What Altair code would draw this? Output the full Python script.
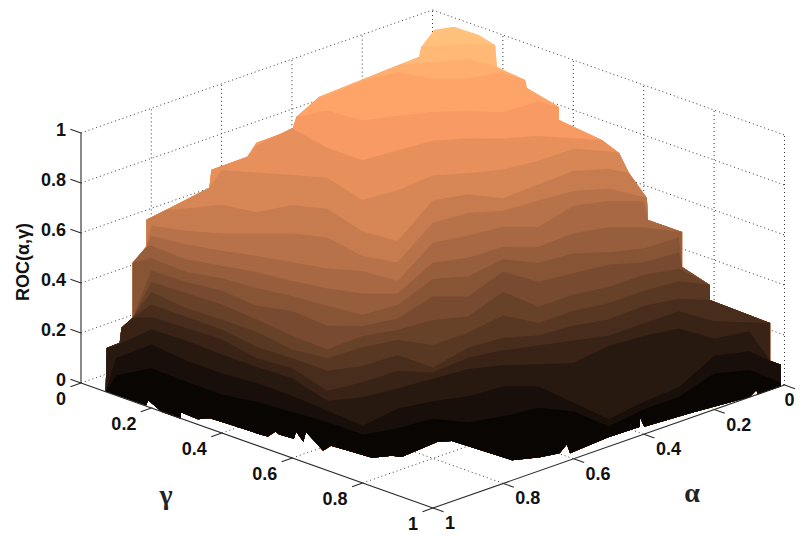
import altair as alt
import pandas as pd

N = None
# contour levels of ROC(alpha, gamma)
LEVELS = [0.95, 0.90, 0.85, 0.80, 0.75, 0.70, 0.65, 0.60, 0.55, 0.50,
          0.45, 0.40, 0.35, 0.30, 0.25, 0.20, 0.15, 0.10, 0.05]
# gamma + (1 - alpha) of each column of the contour table
SUMS = [0.1, 0.2, 0.3, 0.4, 0.5, 0.6, 0.7, 0.8, 0.9, 1.0, 1.1, 1.2, 1.3, 1.4, 1.5, 1.6, 1.7, 1.8, 1.9]
# gamma - (1 - alpha) where each contour crosses each column
CROSS = [
 [N,N,N,N,N,N,N,N,N,-.81,-.83,N,N,N,N,N,N,N,N],
 [N,N,N,N,N,N,N,N,N,-.78,-.81,N,N,N,N,N,N,N,N],
 [N,N,N,N,N,N,-.61,-.73,-.80,-.75,-.75,-.80,N,N,N,N,N,N,N],
 [N,N,N,N,N,N,-.59,-.51,-.55,-.58,-.59,-.58,-.67,N,N,N,N,N,N],
 [N,N,N,N,-.41,-.55,-.39,-.29,-.37,-.45,-.47,-.47,-.49,N,N,N,N,N,N],
 [N,N,N,-.31,-.29,-.27,-.25,-.07,-.15,-.27,-.29,-.32,-.39,-.49,-.47,N,N,N,N],
 [N,N,-.10,-.13,-.07,-.13,-.10,.08,.16,-.17,-.22,-.19,-.30,-.41,-.43,N,N,N,N],
 [N,-.06,-.02,0,0,0,.03,.18,.23,-.09,-.17,-.19,-.27,-.35,-.37,N,N,N,N],
 [N,-.08,-.01,.04,.08,.13,.18,.20,.28,-.03,-.09,-.16,-.16,-.33,-.37,-.37,N,N,N],
 [N,-.10,.01,.06,.11,.18,.24,.28,.28,.03,-.01,-.10,-.10,-.21,-.26,-.26,N,N,N],
 [N,-.10,.01,.06,.14,.20,.28,.35,.27,.06,.04,-.10,-.07,-.15,-.16,-.19,-.28,N,N],
 [N,-.10,-.01,.06,.18,.22,.34,.34,.28,.10,.10,-.10,-.02,-.09,-.16,-.18,-.26,N,N],
 [N,-.11,-.02,.07,.19,.32,.43,.32,.27,.19,.16,-.04,.08,-.02,-.08,-.18,-.23,N,N],
 [N,-.13,0,.09,.19,.33,.40,.31,.25,.29,.19,.05,.11,.01,-.05,-.15,-.23,N,N],
 [N,-.13,-.03,.07,.21,.30,.40,.36,.27,.37,.21,.13,.11,.03,-.02,-.13,-.19,N,N],
 [N,-.13,-.04,.05,.20,.28,.46,.39,.30,.31,.19,.13,.09,.05,.01,-.09,-.19,-.11,N],
 [0,-.13,-.04,.07,.17,.26,.44,.41,.34,.26,.18,.15,.14,.13,-.01,-.09,-.15,-.07,-.13],
 [0,-.11,.02,.12,.20,.30,.42,.54,.40,.34,.30,.22,.22,.35,.48,.34,.22,-.03,-.07],
 [.04,-.02,.09,.19,.25,.33,.41,.51,.46,.38,.41,.36,.29,.32,.44,.30,.20,.01,-.02],
]
# far-left edge of the surface (gamma about 0.07)
LEFT_A = [0, .003, .04, .045, .077, .077, .116, .116, .173, .295, .301, .403, .429, .531, .543, .608, .835, .892, .898, .935, .991]
LEFT_Z = [0, .174, .176, .234, .258, .478, .523, .631, .643, .671, .74, .742, .785, .787, .833, .881, .897, .901, .938, .988, .972]
# far-right edge of the surface (alpha about 0.01)
RIGHT_G = [.142, .188, .193, .273, .278, .369, .369, .491, .54, .568, .619, .622, .719, .719, .798, .798, .969, .969, 1.0, 1.0]
RIGHT_Z = [.976, .959, .873, .861, .832, .801, .749, .73, .703, .637, .562, .476, .476, .336, .304, .244, .237, .086, .086, .014]
# front rim of the surface at ROC = 0
RIM_G = [.068,.181,.164,.229,.283,.259,.311,.324,.367,.46,.479,.47,.487,.525,.499,.55,.513,.614,.605,.641,.712,.732,.75,.74,.757,.919,.946,.958,.932,.973,.962,.964,.923,.97,.981,.999,.98,1.0,1.0]
RIM_A = [.003,.004,.027,0,0,.025,.021,.042,.045,.049,.052,.083,.076,.08,.112,.082,.126,.074,.105,.109,.115,.152,.161,.272,.297,.306,.358,.402,.449,.417,.535,.625,.665,.631,.755,.902,.94,.924,.99]

TICKS = [0.2, 0.4, 0.6, 0.8]
Z_TICKS = [0, 0.2, 0.4, 0.6, 0.8, 1]
GAMMA_TICKS = [0, 0.2, 0.4, 0.6, 0.8, 1]
ALPHA_TICKS = [0, 0.2, 0.4, 0.6, 0.8, 1]


def sx(g, a):
    return 81 + 352 * g + 351.5 * a


def sy(g, a, z=0.0):
    return 383 + 125 * g - 123 * a - 250 * z


def xy(g, a, z=0.0):
    return sx(g, a), sy(g, a, z)


LEFT = [xy(0.07, a, z) for a, z in zip(LEFT_A, LEFT_Z)]
RIGHT = [xy(g, 0.99, z) for g, z in zip(RIGHT_G, RIGHT_Z)]
RIM = [xy(g, a) for g, a in zip(RIM_G, RIM_A)]

polys = []


def add_poly(pid, band, pts):
    for i, (x, y) in enumerate(pts):
        polys.append({"pid": pid, "v": i, "px": x, "py": y, "band": band})


add_poly(0, 0.97, LEFT + RIGHT + RIM[::-1])
for k, (lev, row) in enumerate(zip(LEVELS, CROSS)):
    cont = []
    for s, d in zip(SUMS, row):
        if d is not None:
            cont.append(xy((s + d) / 2, (s - d) / 2, lev))
    x0, y0 = cont[0]
    x1, y1 = cont[-1]
    lft = [p for p in LEFT if p[0] < x0 and p[1] >= y0]
    rgt = [p for p in RIGHT if p[0] > x1 and p[1] >= y1]
    add_poly(k + 1, lev - 0.025, lft + cont + rgt + RIM[::-1])
poly_df = pd.DataFrame(polys)

# line segments
lines = []


def seg(group, sid, p, q):
    lines.append({"g": group, "sid": f"{group}{sid}", "v": 0, "px": p[0], "py": p[1]})
    lines.append({"g": group, "sid": f"{group}{sid}", "v": 1, "px": q[0], "py": q[1]})


n = 0
for t in TICKS:  # floor
    seg("grid", n, xy(t, 0), xy(t, 1)); n += 1
    seg("grid", n, xy(0, t), xy(1, t)); n += 1
for t in TICKS + [1]:  # walls, verticals
    seg("grid", n, xy(0, t), xy(0, t, 1)); n += 1
for t in TICKS + [1]:
    seg("grid", n, xy(t, 1), xy(t, 1, 1)); n += 1
for z in Z_TICKS:
    seg("grid", n, xy(0, 0, z), xy(0, 1, z)); n += 1
    seg("grid", n, xy(0, 1, z), xy(1, 1, z)); n += 1
grid_df = pd.DataFrame(lines)

lines = []
n = 0
seg("axis", n, xy(0, 0, 0), xy(0, 0, 1)); n += 1
seg("axis", n, xy(0, 0), xy(1, 0)); n += 1
seg("axis", n, xy(1, 0), xy(1, 1)); n += 1
for z in Z_TICKS:
    seg("axis", n, xy(0, 0, z), xy(-0.03, 0, z)); n += 1
for g in GAMMA_TICKS:
    seg("axis", n, xy(g, 0), xy(g, -0.03)); n += 1
for al in ALPHA_TICKS:
    seg("axis", n, xy(1, 1 - al), xy(1.03, 1 - al)); n += 1
axis_df = pd.DataFrame(lines)

X = alt.X("px:Q", axis=None, scale=alt.Scale(domain=[8, 796]))
Y = alt.Y("py:Q", axis=None, scale=alt.Scale(domain=[538, 8]))

grid = alt.Chart(grid_df).mark_line(color="#3a3a3a", strokeWidth=1, strokeDash=[1, 3]).encode(
    x=X, y=Y, detail="sid:N", order="v:Q")

surface = alt.Chart(poly_df).mark_line(filled=True, interpolate="linear", strokeWidth=0).encode(
    x=X, y=Y, detail="pid:Q", order="v:Q",
    color=alt.Color("band:Q", legend=None,
                    scale=alt.Scale(domain=[0, 0.8, 1], range=["#000000", "#ff9f66", "#ffc77f"],
                                    interpolate="rgb")))

axes = alt.Chart(axis_df).mark_line(color="#2a2a2a", strokeWidth=1.1).encode(
    x=X, y=Y, detail="sid:N", order="v:Q")


def label_df(points):
    return pd.DataFrame([{"px": p[0], "py": p[1], "t": f"{t:g}"} for p, t in points])


font = dict(font="Liberation Sans", fontWeight="bold", fontSize=18, color="#111111")
z_labels = alt.Chart(label_df([(xy(0, 0, z), z) for z in Z_TICKS])).mark_text(
    align="right", baseline="middle", dx=-15, dy=-2, **font).encode(x=X, y=Y, text="t:N")
g_labels = alt.Chart(label_df([(xy(g, 0), g) for g in GAMMA_TICKS])).mark_text(
    align="right", baseline="middle", dx=-15, dy=17, **font).encode(x=X, y=Y, text="t:N")
a_labels = alt.Chart(label_df([(xy(1, 1 - al), al) for al in ALPHA_TICKS if al > 0])).mark_text(
    align="left", baseline="middle", dx=12, dy=16, **font).encode(x=X, y=Y, text="t:N")
a_zero = alt.Chart(label_df([(xy(1, 1), 0)])).mark_text(
    align="left", baseline="middle", dx=0, dy=16, **font).encode(x=X, y=Y, text="t:N")

titles_df = pd.DataFrame([
    {"px": 166, "py": 496, "t": "γ"},
    {"px": 692, "py": 494, "t": "α"},
])
titles = alt.Chart(titles_df).mark_text(font="Liberation Serif", fontSize=28, fontWeight="bold", color="#222222",
                                        baseline="middle").encode(x=X, y=Y, text="t:N")
ztitle = alt.Chart(pd.DataFrame([{"px": 24, "py": 262, "t": "ROC(α,γ)"}])).mark_text(
    font="Liberation Sans", fontWeight="bold", fontSize=18, color="#111111", angle=270,
    baseline="middle").encode(x=X, y=Y, text="t:N")

chart = alt.layer(grid, surface, axes, z_labels, g_labels, a_labels, a_zero, titles, ztitle).properties(
    width=788, height=530, padding=0, background="white",
    autosize=alt.AutoSizeParams(type="none")
).configure_view(stroke=None)

chart.save("out.html", embed_options={"renderer": "svg", "actions": False})
